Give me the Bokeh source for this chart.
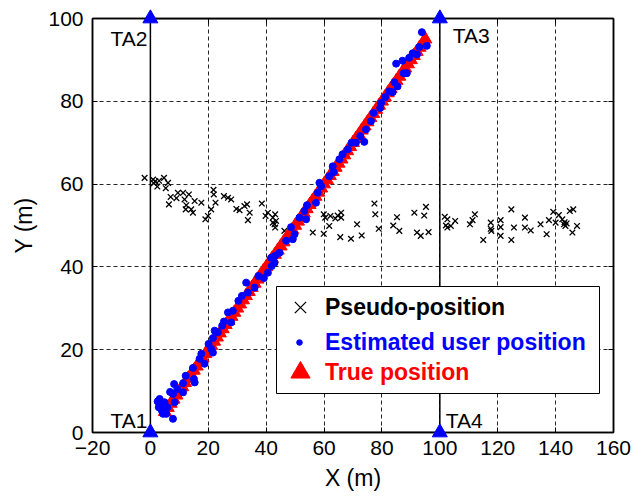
from bokeh.plotting import figure
from bokeh.models import (Range1d, LinearAxis, FixedTicker, Legend, LegendItem,
                          BoxAnnotation, ColumnDataSource)
from bokeh.core.properties import value
from bokeh.embed import file_html
from bokeh.resources import INLINE

# ---------------- data ----------------
x_ticks = [-20, 0, 20, 40, 60, 80, 100, 120, 140, 160]
y_ticks = [0, 20, 40, 60, 80, 100]

ta_names = ["TA1", "TA2", "TA3", "TA4"]
ta_x = [0, 0, 100, 100]
ta_y = [0, 100, 100, 0]

area_x = [0, 0, 100, 100, 0]
area_y = [0, 100, 100, 0, 0]

true_x = [5, 6, 7, 8, 9, 10, 11, 12, 13, 14, 15, 16, 17, 18, 19, 20, 21, 22, 23, 24,
          25, 26, 27, 28, 29, 30, 31, 32, 33, 34, 35, 36, 37, 38, 39, 40, 41, 42, 43, 44,
          45, 46, 47, 48, 49, 50, 51, 52, 53, 54, 55, 56, 57, 58, 59, 60, 61, 62, 63, 64,
          65, 66, 67, 68, 69, 70, 71, 72, 73, 74, 75, 76, 77, 78, 79, 80, 81, 82, 83, 84,
          85, 86, 87, 88, 89, 90, 91, 92, 93, 94, 95]
true_y = [5, 6, 7, 8, 9, 10, 11, 12, 13, 14, 15, 16, 17, 18, 19, 20, 21, 22, 23, 24,
          25, 26, 27, 28, 29, 30, 31, 32, 33, 34, 35, 36, 37, 38, 39, 40, 41, 42, 43, 44,
          45, 46, 47, 48, 49, 50, 51, 52, 53, 54, 55, 56, 57, 58, 59, 60, 61, 62, 63, 64,
          65, 66, 67, 68, 69, 70, 71, 72, 73, 74, 75, 76, 77, 78, 79, 80, 81, 82, 83, 84,
          85, 86, 87, 88, 89, 90, 91, 92, 93, 94, 95]

est_x = [3.2, 4.9, 2.9, 4.4, 5.5, 5.9, 8.2, 7.8, 8.4, 7.8, 9.3, 11.3, 11.3, 12.2, 14.7,
         15.0, 15.3, 17.0, 17.6, 18.7, 20.1, 21.0, 21.6, 21.6, 22.2, 23.3, 24.8, 25.4,
         27.9, 26.8, 28.5, 30.4, 31.6, 33.1, 33.7, 36.0, 37.3, 39.2, 40.6, 41.9, 42.9,
         43.1, 3.8, 5.0, 4.0, 2.5, 6.8,
         41.7, 44.6, 46.9, 49.2, 48.6, 49.8, 51.5, 53.2, 53.8, 54.1, 57.2, 57.8,
         58.4, 59.0, 61.8, 63.0, 63.3, 65.3, 66.4, 68.2, 69.5, 71.0, 73.9, 72.5,
         74.5, 76.2, 77.1, 79.4, 79.7, 81.1, 82.5, 83.7, 84.3, 85.4, 87.5, 88.6, 84.9,
         87.1, 89.4, 90.6, 92.1, 92.9, 95.5, 93.8]
est_y = [8.1, 7.3, 6.1, 4.5, 4.5, 6.1, 11.7, 9.3, 7.3, 3.3, 10.5, 11.9, 9.7, 13.7, 15.6,
         12.9, 12.1, 17.8, 19.0, 16.6, 21.4, 20.2, 22.8, 19.3, 24.6, 24.2, 25.8, 26.8,
         26.6, 29.0, 29.4, 31.8, 33.0, 36.2, 33.8, 35.0, 37.8, 37.3, 38.6, 40.2, 41.0,
         42.7, 5.5, 5.8, 7.0, 7.5, 9.8,
         42.2, 43.4, 46.3, 46.7, 49.6, 47.9, 51.9, 53.5, 51.5, 54.9, 55.5, 57.9,
         60.3, 59.5, 61.9, 64.3, 62.9, 66.0, 67.2, 68.4, 70.0, 70.0, 70.2, 71.6,
         73.2, 75.2, 77.2, 78.4, 79.6, 81.0, 82.4, 82.2, 84.6, 83.6, 86.8, 86.8, 89.1,
         89.8, 90.5, 91.6, 91.3, 93.1, 93.4, 96.7]

pseudo_x = [-2.0, 0.9, 1.2, 1.7, 2.4, 3.0, 4.7, 5.3, 6.1, 7.0, 6.4, 9.0, 9.5, 11.3, 11.8,
            13.3, 12.4, 12.2, 14.1, 14.7, 15.3, 17.6, 19.0, 19.9, 21.0, 21.8, 21.9, 22.5,
            25.4, 26.8, 27.9, 29.7, 30.8, 32.5, 33.4, 34.3, 33.7, 38.5, 39.8, 40.6, 42.3,
            43.1, 42.9, 43.4, 43.1, 42.3, 46.3, 56.1, 59.9, 60.4, 59.9, 61.8, 62.2, 63.9,
            64.7, 65.9, 65.9, 65.6, 69.3, 71.4, 73.0, 77.4, 77.7, 78.9, 83.9, 85.2, 86.0,
            91.2, 92.1, 93.4, 94.6, 95.2, 96.1, 101.7, 102.6, 102.6, 102.1, 103.8, 105.3,
            110.4, 111.3, 112.1, 115.0, 117.6, 117.6, 117.8, 121.0, 121.0, 121.0, 124.7,
            125.6, 124.7, 129.4, 129.4, 131.4, 134.8, 136.9, 137.7, 139.2, 140.0, 141.1,
            142.3, 143.1, 143.8, 142.9, 144.9, 146.1, 143.4, 147.4, 145.8]
pseudo_y = [61.5, 61.1, 60.2, 60.7, 59.4, 60.8, 61.5, 59.0, 60.3, 56.9, 55.1, 56.6, 57.9,
            57.9, 56.3, 57.5, 54.9, 53.9, 53.9, 53.1, 55.9, 55.5, 51.5, 52.3, 53.9, 58.6,
            57.5, 55.5, 57.1, 56.7, 56.3, 54.0, 53.7, 54.7, 55.1, 53.1, 51.3, 55.3, 52.3,
            53.1, 51.9, 52.7, 50.3, 51.1, 49.5, 50.7, 48.7, 48.3, 52.7, 51.9, 48.0, 49.9,
            52.3, 51.7, 52.4, 53.1, 51.9, 47.2, 46.8, 50.3, 47.6, 55.3, 52.7, 49.2, 50.0,
            52.0, 48.7, 53.1, 48.3, 47.5, 52.4, 54.5, 48.4, 52.1, 51.5, 49.5, 50.0, 49.9,
            51.1, 50.3, 51.3, 52.7, 46.5, 50.7, 49.2, 48.7, 51.3, 49.6, 47.5, 53.9, 49.5,
            46.5, 51.9, 49.5, 48.8, 50.3, 47.9, 51.3, 53.3, 50.7, 52.5, 51.5, 50.8, 50.5,
            50.3, 53.5, 53.9, 49.9, 49.9, 48.3]

FONT = "Liberation Sans"

# ---------------- figure ----------------
p = figure(width=644, height=496, x_range=Range1d(-20, 160), y_range=Range1d(0, 100),
           output_backend="svg", toolbar_location=None,
           min_border_left=92, min_border_right=31, min_border_top=18, min_border_bottom=64,
           background_fill_color="white", border_fill_color="white")
p.outline_line_color = "black"
p.outline_line_width = 1.5

# axes (extra top/right axes only carry inward ticks)
top_axis = LinearAxis(major_label_overrides={t: "" for t in x_ticks})
right_axis = LinearAxis(major_label_overrides={t: "" for t in y_ticks})
p.add_layout(top_axis, "above")
p.add_layout(right_axis, "right")

for ax in p.xaxis:
    ax.ticker = FixedTicker(ticks=x_ticks)
for ax in p.yaxis:
    ax.ticker = FixedTicker(ticks=y_ticks)
for ax in list(p.xaxis) + list(p.yaxis):
    ax.major_tick_in = 5
    ax.major_tick_out = 0
    ax.minor_tick_line_color = None
    ax.axis_line_color = "black"
    ax.axis_line_width = 1.5
    ax.major_tick_line_color = "black"
    ax.major_label_text_font = FONT
    ax.major_label_text_font_size = "21px"
    ax.major_label_text_color = "black"
for ax in (top_axis, right_axis):
    ax.major_label_standoff = 0

bx = p.below[0]
ly = p.left[0]
bx.axis_label = "X (m)"
ly.axis_label = "Y (m)"
for ax in (bx, ly):
    ax.axis_label_text_font = FONT
    ax.axis_label_text_font_size = "23px"
    ax.axis_label_text_font_style = "normal"
    ax.axis_label_text_color = "black"
bx.major_label_standoff = 8
bx.axis_label_standoff = 7
ly.major_label_standoff = 9
ly.axis_label_standoff = 8

p.xgrid.ticker = FixedTicker(ticks=x_ticks)
p.ygrid.ticker = FixedTicker(ticks=y_ticks)
for g in (p.xgrid, p.ygrid):
    g.grid_line_color = "black"
    g.grid_line_alpha = 0.85
    g.grid_line_dash = "4 3"
    g.grid_line_width = 1

# ---------------- glyphs ----------------
p.line(area_x, area_y, line_color="black", line_width=1.5)

r_pseudo = p.scatter(pseudo_x, pseudo_y, marker="x", size=8, line_color="black",
                     line_width=1.3)
r_true = p.scatter(true_x, true_y, marker="triangle", size=13, fill_color="red",
                   line_color="red")
r_est = p.scatter(est_x, est_y, marker="circle", size=7, fill_color="blue",
                  line_color="blue")

p.scatter(ta_x, ta_y, marker="triangle", size=15, fill_color="blue", line_color="blue",
          level="overlay")

src_left = ColumnDataSource(dict(x=[ta_x[0], ta_x[1]], y=[ta_y[0], ta_y[1]],
                                 t=[ta_names[0], ta_names[1]],
                                 xo=[-3, -3], yo=[-12, 20]))
src_right = ColumnDataSource(dict(x=[ta_x[2], ta_x[3]], y=[ta_y[2], ta_y[3]],
                                  t=[ta_names[2], ta_names[3]],
                                  xo=[13, 6], yo=[17, -12]))
p.text(x="x", y="y", text="t", x_offset="xo", y_offset="yo", source=src_left,
       text_align="right", text_baseline="middle", text_font=value(FONT),
       text_font_size="21px", text_color="black", level="overlay")
p.text(x="x", y="y", text="t", x_offset="xo", y_offset="yo", source=src_right,
       text_align="left", text_baseline="middle", text_font=value(FONT),
       text_font_size="21px", text_color="black", level="overlay")

# ---------------- legend ----------------
box = BoxAnnotation(left=184, right=507, top=146, bottom=39,
                    left_units="screen", right_units="screen",
                    top_units="screen", bottom_units="screen",
                    fill_color="white", fill_alpha=1.0,
                    line_color="black", line_alpha=1.0, line_width=1)
p.add_layout(box)


def make_legend(label, rend, color, loc, gw, gh, standoff):
    return Legend(items=[LegendItem(label=label, renderers=[rend])], location=loc,
                  padding=0, margin=0, spacing=0, glyph_width=gw, glyph_height=gh,
                  label_height=gh, label_standoff=standoff,
                  label_text_font=FONT, label_text_font_style="bold",
                  label_text_font_size="23px", label_text_color=color,
                  background_fill_alpha=0, border_line_alpha=0)


p.add_layout(make_legend("Pseudo-position", r_pseudo, "black", (188, 105), 40, 40, 5))
p.add_layout(make_legend("Estimated user position", r_est, "blue", (200, 75), 14, 30, 19))
p.add_layout(make_legend("True position", r_true, "red", (184, 36), 48, 48, 1))

open("out.html", "w").write(file_html(p, INLINE))
